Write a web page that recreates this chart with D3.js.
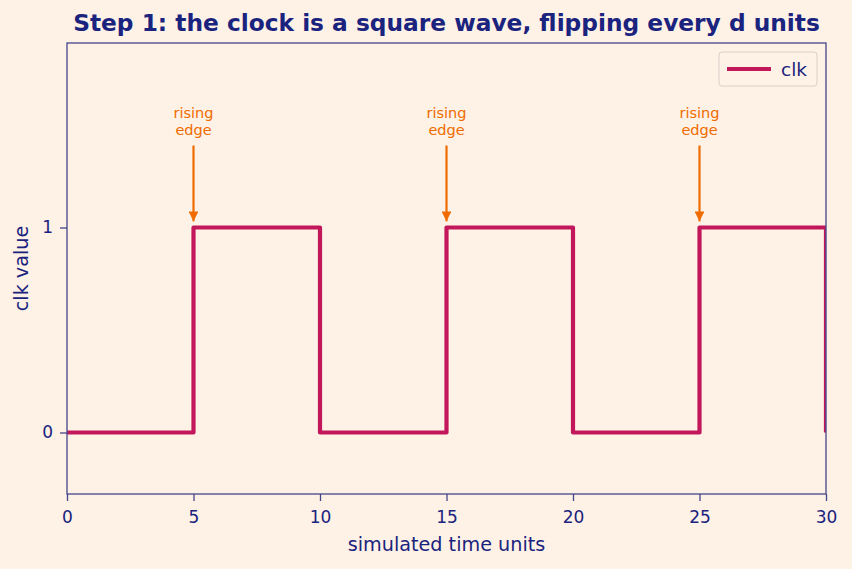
<!DOCTYPE html>
<html>
<head>
<meta charset="utf-8">
<script src="https://cdn.jsdelivr.net/npm/d3@7"></script>
<style>
  body { margin: 0; background: #fef1e6; }
  svg { display: block; font-family: "DejaVu Sans", sans-serif; }
</style>
</head>
<body>
<div id="chart"></div>
<script>
// data
var times = [0, 5, 10, 15, 20, 25, 30];
var clkValues = [0, 1, 0, 1, 0, 1, 0];
var risingEdges = [5, 15, 25];
var xTicks = [0, 5, 10, 15, 20, 25, 30];
var yTicks = [0, 1];

var svgWidth = 852, svgHeight = 569;
var margin = { top: 43, right: 26, bottom: 75, left: 67 };
var chartWidth = svgWidth - margin.left - margin.right;
var chartHeight = svgHeight - margin.top - margin.bottom;

var navy = "#1a237e";
var axisColor = "#45458a";
var lineColor = "#c2185b";
var orange = "#ef6c00";

var svg = d3.select("#chart").append("svg")
  .attr("width", svgWidth)
  .attr("height", svgHeight);

svg.append("rect").attr("width", svgWidth).attr("height", svgHeight).attr("fill", "#fef1e6");

var chartGroup = svg.append("g")
  .attr("transform", `translate(${margin.left}, ${margin.top})`);

var xScale = d3.scaleLinear().domain([0, 30]).range([0, chartWidth]);
var yScale = d3.scaleLinear().domain([-0.3, 1.9]).range([chartHeight, 0]);

var defs = svg.append("defs");
defs.append("clipPath").attr("id", "clip")
  .append("rect").attr("width", chartWidth).attr("height", chartHeight);

var pts = times.map((t, i) => ({ t: t, v: clkValues[i] }));
var line = d3.line()
  .x(d => xScale(d.t))
  .y(d => yScale(d.v))
  .curve(d3.curveStepAfter);

chartGroup.append("path")
  .datum(pts)
  .attr("clip-path", "url(#clip)")
  .attr("fill", "none")
  .attr("stroke", lineColor)
  .attr("stroke-width", 4.2)
  .attr("stroke-linejoin", "round")
  .attr("d", line);

// arrows
defs.append("marker")
  .attr("id", "arrowhead")
  .attr("viewBox", "0 0 10 10")
  .attr("refX", 10).attr("refY", 5)
  .attr("markerWidth", 4.5).attr("markerHeight", 4.5)
  .attr("markerUnits", "strokeWidth")
  .attr("orient", "auto")
  .append("path").attr("d", "M0,0 L10,5 L0,10 z").attr("fill", orange);

var edgeGroup = chartGroup.selectAll(".edge").data(risingEdges).enter().append("g");
edgeGroup.append("line")
  .attr("x1", d => xScale(d)).attr("x2", d => xScale(d))
  .attr("y1", yScale(1.4)).attr("y2", yScale(1.03))
  .attr("stroke", orange).attr("stroke-width", 2.2)
  .attr("marker-end", "url(#arrowhead)");
edgeGroup.append("text")
  .attr("x", d => xScale(d)).attr("y", yScale(1.4) - 28)
  .attr("text-anchor", "middle").style("font-size", "14.5px").attr("fill", orange)
  .text("rising");
edgeGroup.append("text")
  .attr("x", d => xScale(d)).attr("y", yScale(1.4) - 11)
  .attr("text-anchor", "middle").style("font-size", "14.5px").attr("fill", orange)
  .text("edge");

// axes
var bottomAxis = d3.axisBottom(xScale).tickValues(xTicks).tickFormat(d3.format("d")).tickSize(7).tickPadding(10);
var leftAxis = d3.axisLeft(yScale).tickValues(yTicks).tickFormat(d3.format("d")).tickSize(7).tickPadding(7);

var xg = chartGroup.append("g").attr("transform", `translate(0, ${chartHeight})`).call(bottomAxis);
var yg = chartGroup.append("g").call(leftAxis);
[xg, yg].forEach(g => {
  g.select(".domain").remove();
  g.selectAll("line").attr("stroke", axisColor).attr("stroke-width", 1.3);
  g.selectAll("text").attr("fill", navy).style("font-size", "17px").style("font-family", "DejaVu Sans, sans-serif");
});

// frame
chartGroup.append("rect")
  .attr("width", chartWidth).attr("height", chartHeight)
  .attr("fill", "none").attr("stroke", axisColor).attr("stroke-width", 1.3);

// labels
chartGroup.append("text")
  .attr("x", chartWidth / 2).attr("y", chartHeight + 57)
  .attr("text-anchor", "middle").style("font-size", "19.2px").attr("fill", navy)
  .text("simulated time units");

chartGroup.append("text")
  .attr("transform", "rotate(-90)")
  .attr("x", -chartHeight / 2).attr("y", -39)
  .attr("text-anchor", "middle").style("font-size", "19.2px").attr("fill", navy)
  .text("clk value");

svg.append("text")
  .attr("x", margin.left + chartWidth / 2).attr("y", 31)
  .attr("text-anchor", "middle").style("font-size", "23.3px").attr("font-weight", "bold").attr("fill", navy)
  .text("Step 1: the clock is a square wave, flipping every d units");

// legend
var legend = chartGroup.append("g").attr("transform", `translate(${chartWidth - 107}, 9)`);
legend.append("rect")
  .attr("width", 98).attr("height", 34).attr("rx", 3)
  .attr("fill", "#fef1e6").attr("stroke", "#d8d0c8").attr("stroke-width", 1);
legend.append("line")
  .attr("x1", 8).attr("x2", 52).attr("y1", 17).attr("y2", 17)
  .attr("stroke", lineColor).attr("stroke-width", 4.2);
legend.append("text")
  .attr("x", 62).attr("y", 23.5).style("font-size", "18.5px").attr("fill", navy)
  .text("clk");
</script>
</body>
</html>
